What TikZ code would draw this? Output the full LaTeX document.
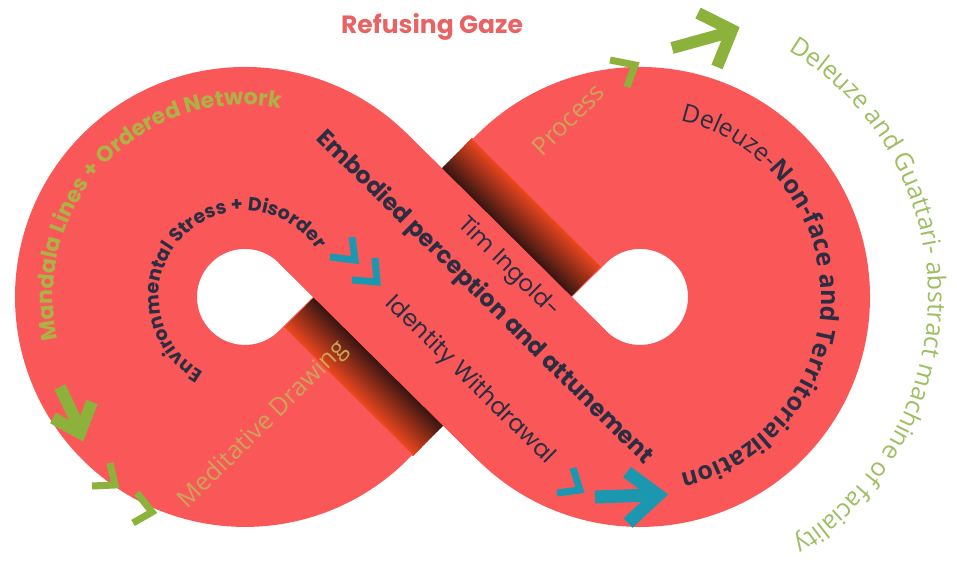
\documentclass[tikz,border=0pt]{standalone}
\usepackage{fontspec}
\setmainfont{Open Sans}
\newfontfamily\geo{Poppins}
\usetikzlibrary{decorations.text}

\definecolor{coral}{RGB}{250,88,88}
\definecolor{shadowdark}{RGB}{58,22,18}
\definecolor{shadowlight}{RGB}{232,70,30}
\definecolor{ink}{RGB}{43,45,66}
\definecolor{arrowteal}{RGB}{27,152,176}
\definecolor{leafgreen}{RGB}{141,178,60}
\definecolor{olivetext}{RGB}{172,178,70}
\definecolor{khaki}{RGB}{204,164,88}
\definecolor{palegreen}{RGB}{158,190,98}
\definecolor{gazered}{RGB}{232,100,100}

\begin{document}
\begin{tikzpicture}[
          x=1pt, y=1pt,
          ribbon/.style={draw=coral, line width=182pt, line join=round},
          chevron/.style={line width=7pt, line join=miter},
          bigarrow/.style={line width=12pt, line join=miter},
          curvetext/.style={decorate, decoration={text along path, text align=center}},
          bandtext/.style={text=ink, inner sep=0pt}
      ]
      \useasboundingbox (0,0) rectangle (957,565);

      % the figure of eight: left lobe, back band, right lobe, front band
      \draw[ribbon] (342.8,366.8) arc[start angle=45.27, end angle=314.73, radius=139]
            -- (542.2,366.8) arc[start angle=134.73, end angle=-134.73, radius=139] -- cycle;

      % front band over the back band, with its shadow (thin strips, dark next to the band)
      \begin{scope}[shift={(442.5,268)}, rotate=-44.73]
          \foreach \k in {0,...,20} {
              \pgfmathsetmacro{\pct}{100*\k/20}
              \fill[shadowlight!\pct!shadowdark] (-91,{91+2*\k}) rectangle (91,{93.6+2*\k});
              \fill[shadowlight!\pct!shadowdark] (-91,{-91-2*\k}) rectangle (91,{-93.6-2*\k});
          }
          \fill[coral] (-91,133) rectangle (91,134);
          \fill[coral] (-91,-133) rectangle (91,-134);
          \fill[coral] (-140.4,-91) rectangle (140.4,91);

          \node[bandtext, transform shape, font=\geo\bfseries\fontsize{23.5}{23.5}\selectfont] (embodied) at (30,29) {Embodied perception and attunement};
          \node[bandtext, transform shape, font=\geo\fontsize{23}{23}\selectfont] (ingold) at (26,67) {Tim Ingold-};
          \node[bandtext, transform shape, font=\geo\fontsize{23.5}{23.5}\selectfont] (identity) at (78,-40) {Identity Withdrawal};
      \end{scope}

      % texts along the back band
      \node[text=khaki, rotate=44.73, font=\fontsize{25}{25}\selectfont] (meditative) at (263.5,140) {Meditative Drawing};
      \node[text=khaki, rotate=44.73, font=\fontsize{25}{25}\selectfont] (process) at (568,445.5) {Process};

      \node[text=gazered, font=\geo\bfseries\fontsize{25}{25}\selectfont] (gaze) at (432,538) {Refusing Gaze};

      % curved texts round the lobes
      \path[curvetext, decoration={text={|\geo\bfseries\fontsize{22}{22}\selectfont\color{olivetext}|Mandala Lines + Ordered Network}},
            shift={(245,268)}] (220:192) arc[start angle=220, end angle=52, radius=192];
      \path[curvetext, decoration={text={|\geo\bfseries\fontsize{19}{19}\selectfont\color{ink}|Environmental Stress + Disorder}},
            shift={(245,268)}] (281:86) arc[start angle=281, end angle=-7, radius=86];
      \path[curvetext, decoration={text={|\fontsize{25}{25}\selectfont\color{ink}|Deleuze-|\fontsize{25}{25}\selectfont\bfseries\color{ink}|Non-face and Territorialization}},
            shift={(640,268)}] (105:181) arc[start angle=105, end angle=-105, radius=181];
      \path[curvetext, decoration={text={|\fontsize{25}{25}\selectfont\color{palegreen}|Deleuze and Guattari- abstract machine of faciality}},
            shift={(640,268)}] (88:288) arc[start angle=88, end angle=-87, radius=288];

      % green arrows
      \draw[bigarrow, leafgreen] (672,517) -- (730,533);
      \draw[bigarrow, leafgreen] (698,552) -- (732,535) -- (717,498);
      \draw[chevron, leafgreen] (610,505) -- (635,500) -- (627,478);
      \draw[bigarrow, leafgreen] (60,178) -- (80,136);
      \draw[bigarrow, leafgreen] (53,147) -- (80,132) -- (92,163);
      \draw[chevron, leafgreen] (110,102) -- (115,80) -- (92,79);
      \draw[chevron, leafgreen] (137,72) -- (152,53) -- (133,42);

      % teal arrows
      \draw[chevron, arrowteal] (352,328) -- (355,305) -- (330,308);
      \draw[chevron, arrowteal] (375,307) -- (377,283) -- (352,285);
      \draw[chevron, arrowteal] (573,97) -- (580,75) -- (557,72);
      \draw[bigarrow, arrowteal, line width=13pt] (595,68) -- (652,70);
      \draw[bigarrow, arrowteal, line width=13pt] (627,93) -- (658,70) -- (628,42);
\end{tikzpicture}
\end{document}
